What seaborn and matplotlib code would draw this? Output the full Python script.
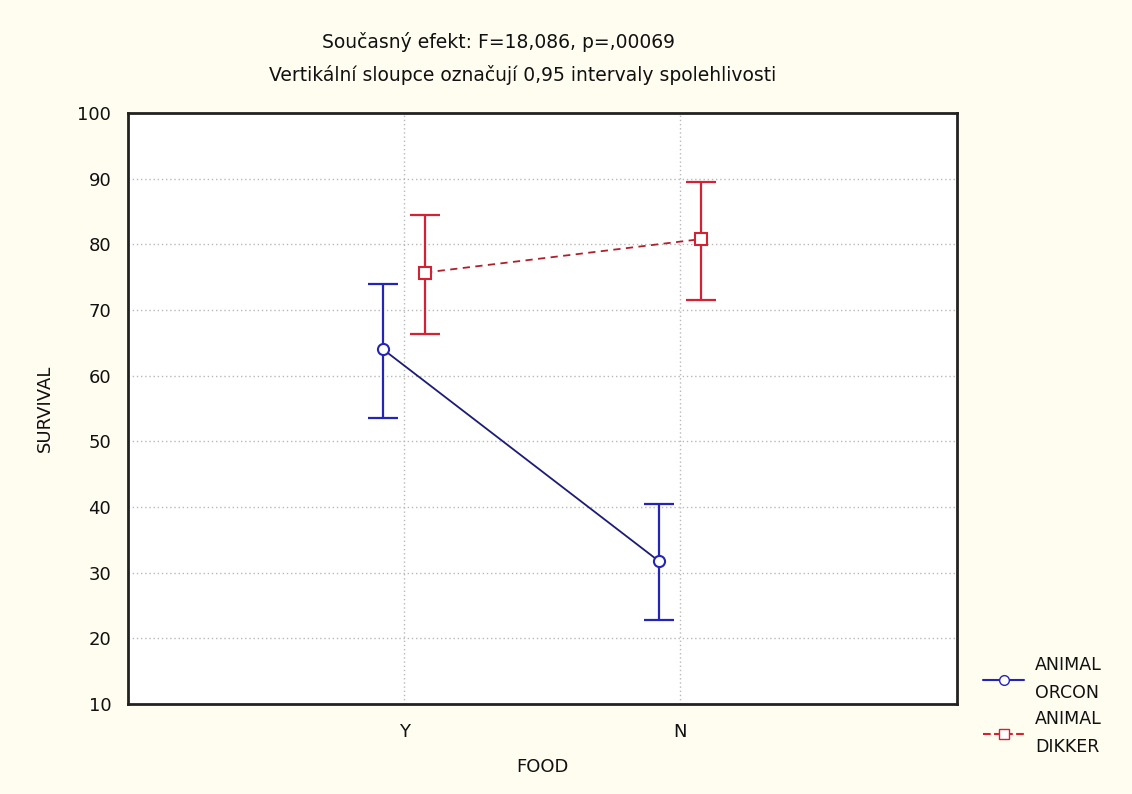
import numpy as np
import pandas as pd
import seaborn as sns
import matplotlib
matplotlib.use("Agg")
import matplotlib.pyplot as plt
from matplotlib.lines import Line2D

# ---- data ----
food = ["Y", "N"]
animals = ["ORCON", "DIKKER"]
orcon_mean = [64.0, 31.7]
orcon_low = [53.6, 22.8]
orcon_high = [74.0, 40.4]
dikker_mean = [75.7, 80.8]
dikker_low = [66.4, 71.5]
dikker_high = [84.5, 89.5]
yticks = [10, 20, 30, 40, 50, 60, 70, 80, 90, 100]

title1 = "Současný efekt: F=18,086, p=,00069"
title2 = "Vertikální sloupce označují 0,95 intervaly spolehlivosti"
legend_labels = ["ANIMAL\nORCON", "ANIMAL\nDIKKER"]

sns.set_style("white")
plt.rcParams["font.family"] = ["DejaVu Sans"]

colors = {"ORCON": "#2424b8", "DIKKER": "#d42234"}
offsets = {"ORCON": -0.076, "DIKKER": 0.076}

rows = []
for a, m, lo, hi in [("ORCON", orcon_mean, orcon_low, orcon_high),
                     ("DIKKER", dikker_mean, dikker_low, dikker_high)]:
    for i, f in enumerate(food):
        rows.append({"ANIMAL": a, "FOOD": f, "pos": i + offsets[a],
                     "SURVIVAL": m[i], "low": lo[i], "high": hi[i]})
df = pd.DataFrame(rows)

fig = plt.figure(figsize=(11.32, 7.94), dpi=100, facecolor="#fffcf0")
ax = fig.add_axes([0.113, 0.1134, 0.732, 0.7443])
ax.set_facecolor("white")

# error bars
for a in animals:
    d = df[df.ANIMAL == a]
    ax.errorbar(d["pos"], d["SURVIVAL"],
                yerr=[d["SURVIVAL"] - d["low"], d["high"] - d["SURVIVAL"]],
                fmt="none", ecolor=colors[a], elinewidth=1.6, capsize=11,
                capthick=1.6, zorder=3)

# connecting lines (seaborn)
line_colors = {"ORCON": "#1c1c78", "DIKKER": "#b0202c"}
sns.lineplot(data=df, x="pos", y="SURVIVAL", hue="ANIMAL", style="ANIMAL",
             hue_order=animals, style_order=animals,
             palette=line_colors, dashes={"ORCON": "", "DIKKER": (4, 3)},
             markers=False, linewidth=1.3, legend=False, ax=ax, zorder=2,
             estimator=None)

# markers
mk = {"ORCON": "o", "DIKKER": "s"}
for a in animals:
    d = df[df.ANIMAL == a]
    ax.plot(d["pos"], d["SURVIVAL"], linestyle="none", marker=mk[a],
            markersize=8, markerfacecolor="white", markeredgecolor=colors[a],
            markeredgewidth=1.5, zorder=4)

ax.set_xlim(-1, 2)
ax.set_ylim(10, 100)
ax.set_xticks(range(len(food)))
ax.set_xticklabels(food)
ax.set_yticks(yticks)
ax.tick_params(direction="in", length=5, width=1.2, labelsize=13,
               colors="#111111", pad=12)
ax.tick_params(axis="x", pad=14)
ax.grid(True, color="#b8b8b8", linestyle=(0, (1, 2)), linewidth=1)
for s in ax.spines.values():
    s.set_color("#222222")
    s.set_linewidth(2)
ax.set_xlabel("FOOD", fontsize=13, labelpad=12, color="#111111")
ax.set_ylabel("SURVIVAL", fontsize=13, labelpad=17, color="#111111")

fig.text(0.44, 0.947, title1, ha="center", va="center", fontsize=13.5,
         color="#111111")
fig.text(0.462, 0.906, title2, ha="center", va="center", fontsize=13.5,
         color="#111111")

handles = [Line2D([0], [0], color=colors[a], marker=mk[a], markersize=7,
                  markerfacecolor="white", markeredgecolor=colors[a],
                  linestyle="-" if a == "ORCON" else "--", linewidth=1.5)
           for a in animals]
leg = fig.legend(handles, legend_labels, loc="upper left",
                 bbox_to_anchor=(0.862, 0.183), frameon=False, fontsize=12.5,
                 handlelength=2.4, labelspacing=0.45, handletextpad=0.6,
                 borderaxespad=0)
for t in leg.get_texts():
    t.set_linespacing(1.75)
    t.set_color("#111111")

fig.savefig("out.png", dpi=100, facecolor=fig.get_facecolor())
